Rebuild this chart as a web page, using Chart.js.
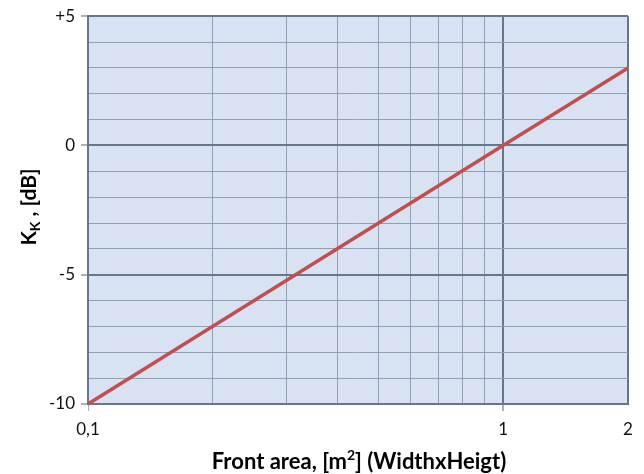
<!DOCTYPE html>
<html>
<head>
<meta charset="utf-8">
<script src="https://cdn.jsdelivr.net/npm/chart.js@4"></script>
<style>
  html, body { margin: 0; padding: 0; background: #fff; }
  #wrap { width: 644px; height: 474px; }
</style>
</head>
<body>
<div id="wrap"><canvas id="kChart"></canvas></div>
<script>
// data
const frontArea = [0.1, 1, 2];
const kValues = [-10, 0, 3];
const xTicks = [0.1, 0.2, 0.3, 0.4, 0.5, 0.6, 0.7, 0.8, 0.9, 1, 2];
const xLabels = { 0.1: '0,1', 1: '1', 2: '2' };
const yLabels = { 5: '+5', 0: '0', '-5': '-5', '-10': '-10' };

const FONT = "Lato, 'Liberation Sans', sans-serif";
const MINOR = '#93a0b3';
const MAJOR = '#66778b';

/* plot background + axis titles with sub/superscript */
const plotDecor = {
  id: 'plotDecor',
  beforeDraw(chart) {
    const { ctx, chartArea: a } = chart;
    ctx.save();
    ctx.fillStyle = '#d9e2f3';
    ctx.fillRect(a.left, a.top, a.right - a.left, a.bottom - a.top);
    ctx.restore();
  },
  afterDraw(chart) {
    const { ctx } = chart;
    ctx.save();
    ctx.fillStyle = '#000';
    ctx.textBaseline = 'alphabetic';

    // x title
    const big = 'bold 22px ' + FONT;
    const small = 'bold 14px ' + FONT;
    const parts = [
      { t: 'Front area, [m', f: big, dy: 0 },
      { t: '2', f: small, dy: -9 },
      { t: '] (WidthxHeigt)', f: big, dy: 0 }
    ];
    let w = 0;
    parts.forEach(p => { ctx.font = p.f; p.w = ctx.measureText(p.t).width; w += p.w; });
    let x = 359 - w / 2;
    parts.forEach(p => { ctx.font = p.f; ctx.fillText(p.t, x, 469 + p.dy); x += p.w; });

    // y title
    const ybig = 'bold 21px ' + FONT;
    ctx.translate(36, 207);
    ctx.rotate(-Math.PI / 2);
    const yparts = [
      { t: 'K', f: ybig, dy: 0 },
      { t: 'K', f: small, dy: 4 },
      { t: ' , [dB]', f: ybig, dy: 0 }
    ];
    w = 0;
    yparts.forEach(p => { ctx.font = p.f; p.w = ctx.measureText(p.t).width; w += p.w; });
    x = -w / 2;
    yparts.forEach(p => { ctx.font = p.f; ctx.fillText(p.t, x, p.dy); x += p.w; });
    ctx.restore();
  }
};

new Chart(document.getElementById('kChart'), {
  type: 'line',
  data: {
    datasets: [{
      data: frontArea.map((a, i) => ({ x: a, y: kValues[i] })),
      borderColor: '#c0504d',
      borderWidth: 3.5,
      pointRadius: 0,
      tension: 0,
      clip: false
    }]
  },
  options: {
    responsive: true,
    maintainAspectRatio: false,
    animation: false,
    layout: { padding: { top: 15, right: 16, left: 0, bottom: 0 } },
    plugins: { legend: { display: false }, tooltip: { enabled: false } },
    scales: {
      x: {
        type: 'logarithmic',
        min: 0.1,
        max: 2,
        afterBuildTicks: s => { s.ticks = xTicks.map(v => ({ value: v })); },
        afterFit: s => { s.height = 70; },
        border: { color: MAJOR, width: 2 },
        grid: {
          color: c => (c.tick && (c.tick.value === 1 || c.tick.value === 2)) ? MAJOR : MINOR,
          lineWidth: c => (c.tick && (c.tick.value === 1 || c.tick.value === 2)) ? 2 : 1,
          tickLength: 7,
          tickColor: c => (c.tick && (c.tick.value === 0.1 || c.tick.value === 1)) ? '#a8b0bb' : 'rgba(0,0,0,0)'
        },
        ticks: {
          autoSkip: false,
          maxRotation: 0,
          padding: 8,
          color: '#111',
          font: { family: FONT, size: 17 },
          callback: v => xLabels[v] !== undefined ? xLabels[v] : ''
        }
      },
      y: {
        min: -10,
        max: 5,
        afterFit: s => { s.width = 88; },
        border: { color: MAJOR, width: 2 },
        grid: {
          color: c => (c.tick && c.tick.value % 5 === 0) ? MAJOR : MINOR,
          lineWidth: c => (c.tick && c.tick.value % 5 === 0) ? 2 : 1,
          tickLength: 7,
          tickColor: c => (c.tick && c.tick.value % 5 === 0) ? '#a8b0bb' : 'rgba(0,0,0,0)'
        },
        ticks: {
          stepSize: 1,
          padding: 6,
          color: '#111',
          font: { family: FONT, size: 17 },
          callback: v => yLabels[v] !== undefined ? yLabels[v] : ''
        }
      }
    }
  },
  plugins: [plotDecor]
});
</script>
</body>
</html>
